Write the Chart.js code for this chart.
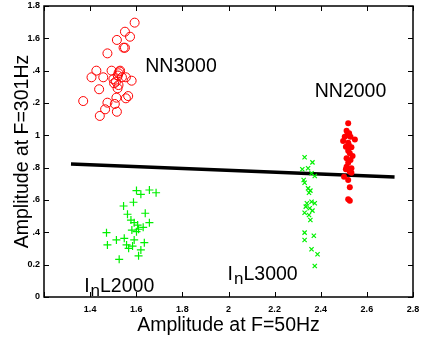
<!DOCTYPE html>
<html>
<head>
<meta charset="utf-8">
<script src="https://cdn.jsdelivr.net/npm/chart.js@4.4.1/dist/chart.umd.min.js"></script>
<style>
  html, body { margin: 0; padding: 0; background: #fff; }
  #wrap { width: 421px; height: 342px; }
</style>
</head>
<body>
<div id="wrap"><canvas id="myChart" width="421" height="342"></canvas></div>
<script>
// tick labels as they appear on the figure
const xTickLabels = ['', '1.4', '1.6', '1.8', '2', '2.2', '2.4', '2.6', '2.8'];
const yTickLabels = ['0', '0.2', '.4', '.6', '.8', '1', '.2', '.4', '1.6', '1.8'];

// NN3000 (open circles)
const nn3000X = [1.593, 1.551, 1.573, 1.516, 1.545, 1.551, 1.475, 1.427, 1.406, 1.457, 1.493, 1.530, 1.523, 1.501, 1.538, 1.555, 1.580, 1.512, 1.504, 1.523, 1.519, 1.439, 1.565, 1.555, 1.514, 1.370, 1.475, 1.507, 1.465, 1.516, 1.442, 1.520, 1.527];
const nn3000Y = [1.697, 1.641, 1.610, 1.590, 1.542, 1.542, 1.507, 1.400, 1.359, 1.359, 1.400, 1.400, 1.384, 1.348, 1.359, 1.359, 1.338, 1.332, 1.322, 1.311, 1.291, 1.285, 1.243, 1.229, 1.233, 1.212, 1.202, 1.194, 1.161, 1.146, 1.120, 1.370, 1.395];

// NN2000 (filled dots)
const nn2000X = [2.519, 2.512, 2.523, 2.504, 2.529, 2.548, 2.497, 2.519, 2.509, 2.533, 2.519, 2.526, 2.538, 2.512, 2.529, 2.519, 2.512, 2.533, 2.509, 2.526, 2.533, 2.501, 2.519, 2.526, 2.519, 2.526, 2.515, 2.522];
const nn2000Y = [1.074, 1.029, 1.013, 0.992, 0.992, 0.975, 0.965, 0.954, 0.930, 0.926, 0.905, 0.889, 0.872, 0.858, 0.847, 0.831, 0.806, 0.796, 0.790, 0.775, 0.769, 0.744, 0.724, 0.679, 0.604, 0.596, 1.000, 0.940];

// InL3000 (x marks)
const inl3000X = [2.330, 2.364, 2.320, 2.345, 2.360, 2.374, 2.326, 2.330, 2.345, 2.355, 2.349, 2.340, 2.360, 2.374, 2.335, 2.352, 2.364, 2.330, 2.349, 2.355, 2.330, 2.330, 2.370, 2.360, 2.386, 2.374];
const inl3000Y = [0.864, 0.833, 0.790, 0.796, 0.765, 0.748, 0.724, 0.707, 0.672, 0.658, 0.645, 0.580, 0.589, 0.580, 0.559, 0.549, 0.534, 0.521, 0.507, 0.476, 0.398, 0.353, 0.379, 0.295, 0.264, 0.192];

// InL2000 (plus marks)
const inl2000X = [1.601, 1.620, 1.657, 1.686, 1.545, 1.588, 1.562, 1.639, 1.577, 1.591, 1.657, 1.606, 1.630, 1.581, 1.610, 1.601, 1.471, 1.514, 1.548, 1.591, 1.635, 1.475, 1.558, 1.584, 1.567, 1.620, 1.610, 1.526];
const inl2000Y = [0.658, 0.635, 0.662, 0.645, 0.563, 0.586, 0.512, 0.518, 0.476, 0.460, 0.460, 0.445, 0.431, 0.414, 0.419, 0.404, 0.398, 0.353, 0.363, 0.353, 0.336, 0.322, 0.322, 0.315, 0.301, 0.291, 0.255, 0.233];

// fitted line end points
const fitX = [1.317, 2.72];
const fitY = [0.822, 0.742];

const pts = (xs, ys) => xs.map((x, i) => ({ x: x, y: ys[i] }));

// text labels inside the plot: [main, subscript, rest, x, y]
const notes = [
  ['NN3000', '', '', 1.639, 1.392],
  ['NN2000', '', '', 2.374, 1.237],
  ['I', 'n', 'L2000', 1.374, 0.03],
  ['I', 'n', 'L3000', 1.996, 0.105],
];

const frame = {
  id: 'frame',
  afterDraw(chart) {
    const c = chart.ctx;
    const a = chart.chartArea;
    const xs = chart.scales.x, ys = chart.scales.y;
    c.save();
    c.strokeStyle = '#000';
    c.lineWidth = 1.5;
    c.strokeRect(a.left, a.top, a.right - a.left, a.bottom - a.top);
    c.lineWidth = 1;
    const t = 5;
    xs.ticks.forEach(tk => {
      const px = Math.round(xs.getPixelForValue(tk.value)) + 0.5;
      c.beginPath();
      c.moveTo(px, a.bottom); c.lineTo(px, a.bottom - t);
      c.moveTo(px, a.top); c.lineTo(px, a.top + t);
      c.stroke();
    });
    ys.ticks.forEach(tk => {
      const py = Math.round(ys.getPixelForValue(tk.value)) + 0.5;
      c.beginPath();
      c.moveTo(a.left, py); c.lineTo(a.left + t, py);
      c.moveTo(a.right, py); c.lineTo(a.right - t, py);
      c.stroke();
    });
    // labels
    c.fillStyle = '#000';
    c.textBaseline = 'alphabetic';
    c.textAlign = 'left';
    notes.forEach(n => {
      let px = xs.getPixelForValue(n[3]);
      const py = ys.getPixelForValue(n[4]);
      c.font = '19.5px "Liberation Sans", Arial, sans-serif';
      c.fillText(n[0], px, py);
      px += c.measureText(n[0]).width + 1;
      if (n[1]) {
        c.font = '17px "Liberation Sans", Arial, sans-serif';
        c.fillText(n[1], px, py + 4);
        px += c.measureText(n[1]).width;
        c.font = '19.5px "Liberation Sans", Arial, sans-serif';
        c.fillText(n[2], px, py);
      }
    });
    c.restore();
  }
};

const ctx = document.getElementById('myChart').getContext('2d');
const myChart = new Chart(ctx, {
  type: 'scatter',
  data: {
    datasets: [
      {
        label: 'NN3000',
        data: pts(nn3000X, nn3000Y),
        pointStyle: 'circle',
        pointRadius: 4.5,
        borderColor: '#ff0000',
        backgroundColor: 'rgba(0,0,0,0)',
        borderWidth: 1,
      },
      {
        label: 'NN2000',
        data: pts(nn2000X, nn2000Y),
        pointStyle: 'circle',
        pointRadius: 3,
        borderColor: '#ff0000',
        backgroundColor: '#ff0000',
        borderWidth: 0,
      },
      {
        label: 'InL3000',
        data: pts(inl3000X, inl3000Y),
        pointStyle: 'crossRot',
        pointRadius: 3,
        borderColor: '#00f000',
        borderWidth: 1.2,
      },
      {
        label: 'InL2000',
        data: pts(inl2000X, inl2000Y),
        pointStyle: 'cross',
        pointRadius: 4,
        borderColor: '#00f000',
        borderWidth: 1.2,
      },
      {
        type: 'line',
        label: 'fit',
        data: pts(fitX, fitY),
        borderColor: '#000',
        borderWidth: 3.5,
        pointRadius: 0,
        fill: false,
      },
    ],
  },
  options: {
    responsive: false,
    animation: false,
    layout: { padding: { top: 6, right: 8, left: 0, bottom: 0 } },
    plugins: {
      legend: { display: false },
      tooltip: { enabled: false },
    },
    scales: {
      x: {
        type: 'linear',
        min: 1.2,
        max: 2.8,
        afterFit: s => { s.height = 45; s.paddingLeft = 0; s.paddingRight = 0; },
        grid: { display: false, drawTicks: false },
        border: { display: false },
        ticks: {
          stepSize: 0.2,
          padding: 7,
          color: '#000',
          font: { family: '"Liberation Sans", Arial', size: 9, weight: 'bold' },
          maxRotation: 0,
          autoSkip: false,
          callback: (v, i) => xTickLabels[i],
        },
        title: {
          display: true,
          text: 'Amplitude at F=50Hz',
          color: '#000',
          font: { family: '"Liberation Sans", Arial', size: 19.5 },
          padding: { top: 0, bottom: 5 },
        },
      },
      y: {
        min: 0,
        max: 1.8,
        afterFit: s => { s.width = 44; s.paddingTop = 0; s.paddingBottom = 0; },
        grid: { display: false, drawTicks: false },
        border: { display: false },
        ticks: {
          stepSize: 0.2,
          padding: 4,
          color: '#000',
          font: { family: '"Liberation Sans", Arial', size: 9, weight: 'bold' },
          autoSkip: false,
          callback: (v, i) => yTickLabels[i],
        },
        title: {
          display: true,
          text: 'Amplitude at F=301Hz',
          color: '#000',
          font: { family: '"Liberation Sans", Arial', size: 19.5 },
          padding: { top: 11, bottom: 0 },
        },
      },
    },
  },
  plugins: [frame],
});
</script>
</body>
</html>
